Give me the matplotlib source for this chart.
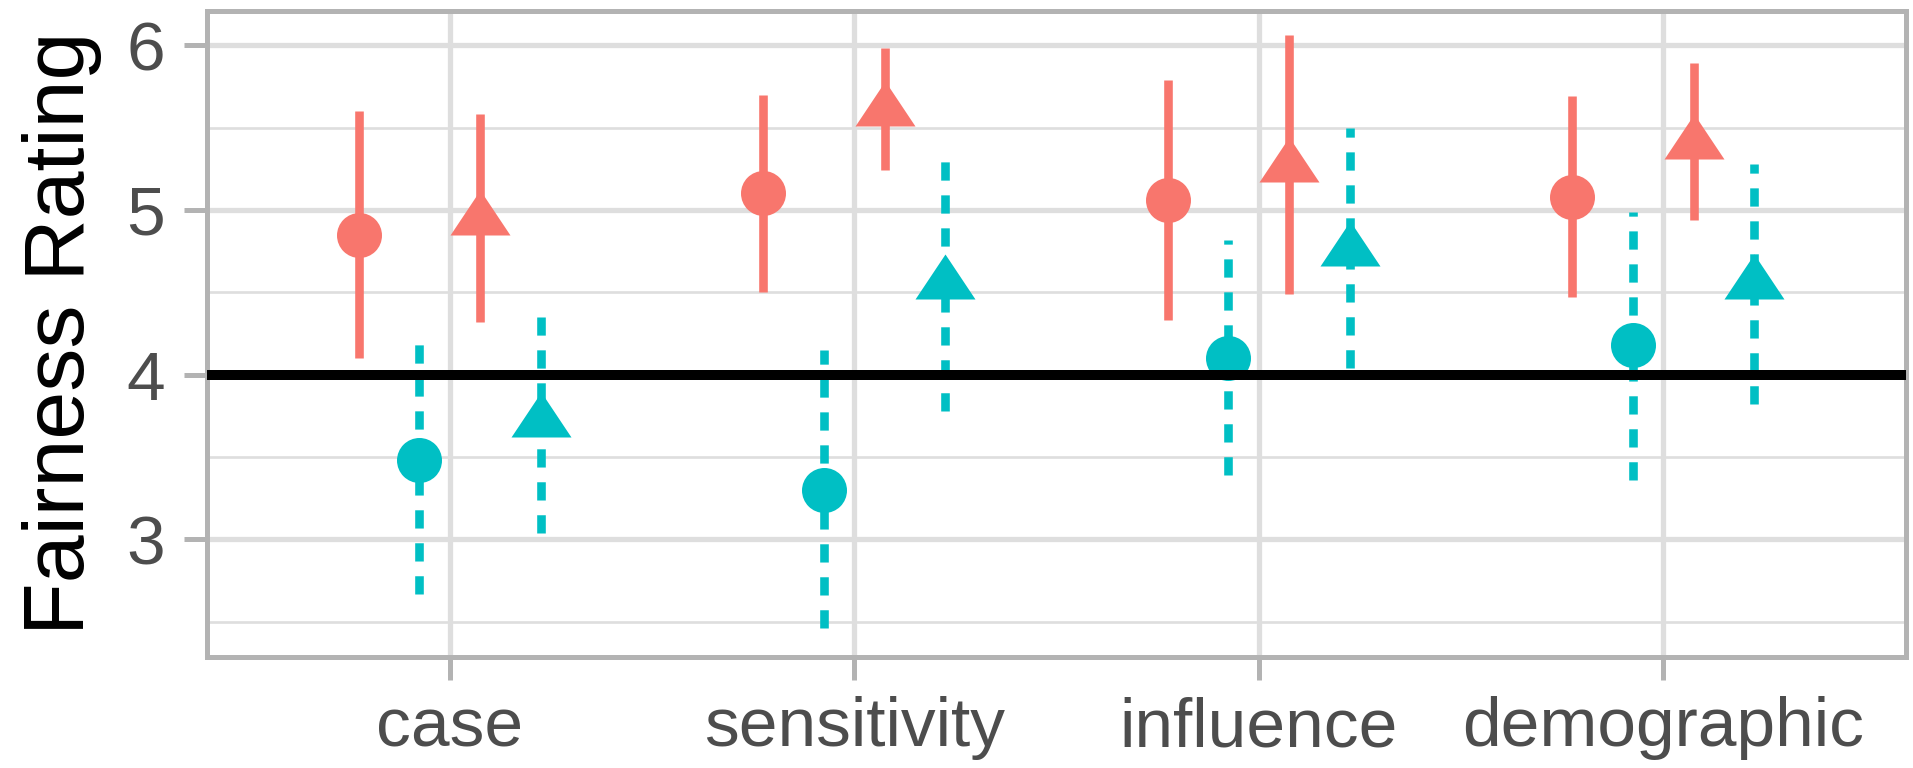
import matplotlib
matplotlib.use("Agg")
import matplotlib.pyplot as plt
import numpy as np

plt.rcParams['font.family'] = ['Liberation Sans', 'DejaVu Sans']

categories = ["case", "sensitivity", "influence", "demographic"]

# red / circle (solid)
red_circle = [4.85, 5.10, 5.06, 5.08]
red_circle_lo = [4.10, 4.50, 4.33, 4.47]
red_circle_hi = [5.60, 5.70, 5.79, 5.69]
# cyan / circle (dashed)
cyan_circle = [3.48, 3.30, 4.10, 4.18]
cyan_circle_lo = [2.67, 2.46, 3.39, 3.36]
cyan_circle_hi = [4.19, 4.15, 4.82, 4.99]
# red / triangle (solid)
red_tri = [4.94, 5.60, 5.26, 5.40]
red_tri_lo = [4.32, 5.24, 4.49, 4.94]
red_tri_hi = [5.58, 5.985, 6.06, 5.89]
# cyan / triangle (dashed)
cyan_tri = [3.71, 4.55, 4.75, 4.55]
cyan_tri_lo = [3.04, 3.78, 4.04, 3.82]
cyan_tri_hi = [4.35, 5.31, 5.50, 5.28]

RED = "#F8766D"
CYAN = "#00BFC4"
GRID = "#dedede"
BORDER = "#b3b3b3"

# triangle marker centred on its centroid (a bit wide, like the original)
tri_marker = [(0, 30), (-30, -15), (30, -15), (0, 30)]
dashed = (0, (2.12, 1.71))

series = [
    (red_circle, red_circle_lo, red_circle_hi, -0.225, RED, "o", 32.4, "-"),
    (cyan_circle, cyan_circle_lo, cyan_circle_hi, -0.075, CYAN, "o", 32.4, dashed),
    (red_tri, red_tri_lo, red_tri_hi, 0.075, RED, tri_marker, 43.2, "-"),
    (cyan_tri, cyan_tri_lo, cyan_tri_hi, 0.225, CYAN, tri_marker, 43.2, dashed),
]

fig = plt.figure(figsize=(19.13, 7.68), dpi=100)
ax = fig.add_axes([207/1913, 1 - 656.5/768, (1906-207)/1913, (656.5-10.5)/768])

x = np.arange(1, len(categories) + 1)

for vals, lo, hi, off, col, mk, ms, ls in series:
    for i in range(len(categories)):
        ax.plot([x[i] + off, x[i] + off], [lo[i], hi[i]], color=col, lw=6.2,
                linestyle=ls, solid_capstyle='butt', dash_capstyle='butt', zorder=3)
    ax.plot(x + off, vals, linestyle='none', marker=mk, markersize=ms,
            color=col, markeredgewidth=0, zorder=4)

ax.axhline(4, color='black', lw=7.2, zorder=5)

ax.set_xlim(0.4, 4.6)
ax.set_ylim(2.288, 6.211)
ax.set_xticks(x)
ax.set_xticklabels(categories)
ax.set_yticks([3, 4, 5, 6])
ax.set_yticks([2.5, 3.5, 4.5, 5.5], minor=True)

ax.grid(True, which='major', color=GRID, lw=3.8, zorder=0)
ax.grid(True, which='minor', axis='y', color=GRID, lw=1.9, zorder=0)
ax.set_axisbelow(True)

ax.tick_params(axis='both', which='major', length=16.5, width=3.6, color=BORDER,
               labelsize=50, labelcolor='#4d4d4d')
ax.tick_params(axis='y', which='minor', length=0)
ax.tick_params(axis='x', pad=12)
ax.tick_params(axis='y', pad=14)

for s in ax.spines.values():
    s.set_color(BORDER)
    s.set_linewidth(3.6)

fig.text(62/1913, 1 - 333/768, "Fairness Rating", rotation=90, fontsize=62,
         ha='center', va='center', color='black')

fig.savefig("out.png", dpi=100)
